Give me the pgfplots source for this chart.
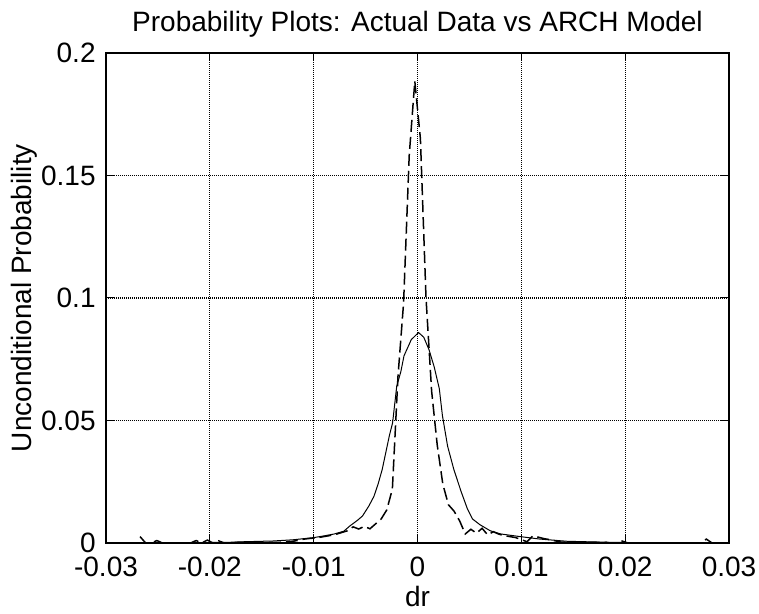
\documentclass[border=0pt]{standalone}
\usepackage{fontspec}
\setmainfont{Liberation Sans}
\usepackage{pgfplots}
\pgfplotsset{compat=1.18}

\pgfplotstableread{
x        y
-0.0270  0.0000
-0.0240  0.0000
-0.0220  0.0001
-0.0200  0.0002
-0.0180  0.0003
-0.0168  0.0005
-0.0150  0.0007
-0.0140  0.0008
-0.0120  0.0013
-0.0100  0.0022
-0.0090  0.0029
-0.0080  0.0037
-0.0071  0.0048
-0.0065  0.0070
-0.0058  0.0092
-0.0053  0.0110
-0.0047  0.0150
-0.0042  0.0190
-0.0038  0.0240
-0.0034  0.0300
-0.0030  0.0380
-0.0027  0.0440
-0.0024  0.0490
-0.0020  0.0640
-0.0016  0.0700
-0.0013  0.0764
-0.0006  0.0830
 0.0001  0.0859
 0.0006  0.0840
 0.0011  0.0790
 0.0016  0.0720
 0.0021  0.0630
 0.0024  0.0520
 0.0029  0.0395
 0.0035  0.0300
 0.0042  0.0210
 0.0048  0.0140
 0.0053  0.0098
 0.0060  0.0075
 0.0070  0.0050
 0.0080  0.0037
 0.0099  0.0026
 0.0118  0.0016
 0.0144  0.0007
 0.0183  0.0003
 0.0220  0.0001
 0.0250  0.0000
 0.0280  0.0000
}\archmodel

\pgfplotstableread{
x         y
-0.02672  0.0026
-0.02618  0.0000
-0.02564  0.0000
-0.02510  0.0010
-0.02456  0.0000
-0.02402  0.0000
-0.02348  0.0000
-0.02294  0.0000
-0.02240  0.0000
-0.02186  0.0000
-0.02132  0.0010
-0.02078  0.0000
-0.02024  0.0012
-0.01970  0.0000
-0.01916  0.0009
-0.01862  0.0000
-0.01808  0.0000
-0.01754  0.0003
-0.01700  0.0003
-0.01646  0.0003
-0.01592  0.0003
-0.01538  0.0003
-0.01484  0.0003
-0.01430  0.0003
-0.01376  0.0003
-0.01322  0.0003
-0.01268  0.0004
-0.01214  0.0006
-0.01160  0.0010
-0.01106  0.0015
-0.01052  0.0018
-0.00998  0.0020
-0.00944  0.0023
-0.00890  0.0027
-0.00836  0.0031
-0.00782  0.0036
-0.00728  0.0043
-0.00674  0.0050
-0.00620  0.0066
-0.00566  0.0057
-0.00512  0.0068
-0.00458  0.0058
-0.00404  0.0078
-0.00350  0.0098
-0.00296  0.0135
-0.00242  0.0220
-0.00188  0.0680
-0.00134  0.0980
-0.00080  0.1580
-0.00026  0.1885
 0.00028  0.1650
 0.00082  0.1000
 0.00136  0.0620
 0.00190  0.0400
 0.00244  0.0240
 0.00298  0.0156
 0.00352  0.0130
 0.00406  0.0090
 0.00460  0.0037
 0.00514  0.0056
 0.00568  0.0040
 0.00622  0.0060
 0.00676  0.0033
 0.00730  0.0046
 0.00784  0.0036
 0.00838  0.0030
 0.00892  0.0026
 0.00946  0.0022
 0.01000  0.0014
 0.01054  0.0005
 0.01108  0.0028
 0.01162  0.0024
 0.01216  0.0018
 0.01270  0.0014
 0.01324  0.0009
 0.01378  0.0004
 0.01432  0.0003
 0.01486  0.0003
 0.01540  0.0003
 0.01594  0.0003
 0.01648  0.0003
 0.01702  0.0003
 0.01756  0.0003
 0.01810  0.0003
 0.01864  0.0000
 0.01918  0.0000
 0.01972  0.0008
 0.02026  0.0000
 0.02080  0.0000
 0.02134  0.0000
 0.02188  0.0000
 0.02242  0.0000
 0.02296  0.0000
 0.02350  0.0000
 0.02404  0.0000
 0.02458  0.0000
 0.02512  0.0000
 0.02566  0.0000
 0.02620  0.0000
 0.02674  0.0000
 0.02728  0.0000
 0.02782  0.0016
 0.02836  0.0000
}\actualdata

\begin{document}
\fontsize{14}{17}\selectfont
\begin{tikzpicture}
\begin{axis}[
    scale only axis,
    width=311.5pt, height=245pt,
    xmin=-0.03, xmax=0.03,
    ymin=0, ymax=0.2,
    xtick={-0.03,-0.02,-0.01,0,0.01,0.02,0.03},
    xticklabels={-0.03,-0.02,-0.01,0,0.01,0.02,0.03},
    ytick={0,0.05,0.1,0.15,0.2},
    yticklabels={0,0.05,0.1,0.15,0.2},
    scaled x ticks=false, scaled y ticks=false,
    /pgf/number format/assume math mode=true,
    tick align=inside,
    major tick length=4pt,
    tick style={black, line width=0.5pt},
    axis line style={line width=0.9pt},
    xmajorgrids, ymajorgrids,
    grid style={black, line width=0.6pt, dash pattern=on 0.5pt off 0.5pt},
    every tick label/.append style={font=\fontsize{14}{17}\selectfont},
    xticklabel style={anchor=base, yshift=-16.5pt, inner sep=0pt,
        text height=10pt, text depth=0pt},
    yticklabel style={anchor=east, inner sep=0pt, xshift=-5pt,
        text height=10pt, text depth=0pt},
    every axis title shift=0pt,
    title={Probability Plots: Actual Data vs ARCH Model},
    title style={at={(axis description cs:0.5,1.0429)}, anchor=base,
        font=\fontsize{14}{17}\selectfont},
    xlabel={dr},
    xlabel style={at={(axis description cs:0.5,-0.1306)}, anchor=base,
        font=\fontsize{14}{17}\selectfont},
    ylabel={Unconditional Probability},
    ylabel style={at={(axis description cs:-0.1197,0.5)}, anchor=base,
        rotate=0, font=\fontsize{14}{17}\selectfont},
]
  \addplot[black, line width=0.5pt] table[x=x, y=y] {\archmodel};
  \addplot[black, line width=0.75pt, dash pattern=on 6pt off 2.5pt]
      table[x=x, y=y] {\actualdata};
\end{axis}
\pgfresetboundingbox
\path[use as bounding box]
  ([shift={(-53pt,-35.5pt)}]current axis.south west)
  rectangle ([shift={(15pt,26.5pt)}]current axis.north east);
\end{tikzpicture}
\end{document}
